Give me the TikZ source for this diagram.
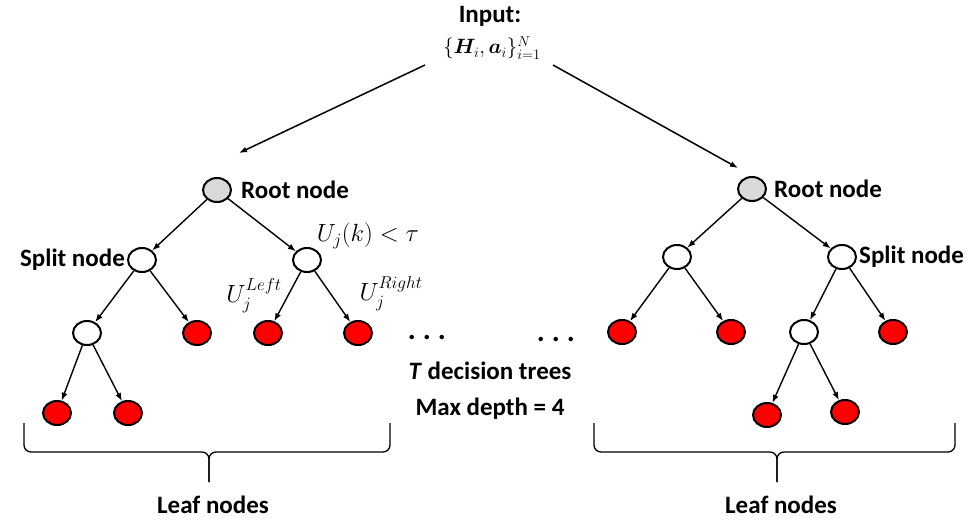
\documentclass[tikz,border=0pt]{standalone}
\usepackage{amsmath,amssymb,bm}
\usepackage{fontspec}
\setmainfont{Carlito}
\usetikzlibrary{arrows.meta,positioning,shapes.geometric}
\definecolor{TreeGray}{HTML}{D9D9D9}
\definecolor{TreeRed}{HTML}{FF0000}

\begin{document}
\begin{tikzpicture}[x=1pt,y=-1pt,
      >={Latex[length=8pt,width=6pt]},
      edge/.style={->,line width=1.4pt},
      feed/.style={->,line width=1.5pt},
      treenode/.style={draw,ellipse,line width=2pt,minimum width=28pt,
        minimum height=24pt,inner sep=0pt},
      rootnode/.style={treenode,fill=TreeGray},
      splitnode/.style={treenode,fill=white},
      leafnode/.style={treenode,fill=TreeRed},
      lbl/.style={font=\fontsize{25}{30}\selectfont\bfseries,inner sep=1pt},
      mathlbl/.style={font=\fontsize{26}{30}\selectfont,inner sep=1pt},
      brace/.style={line width=1.3pt,rounded corners=7pt}
    ]
    \useasboundingbox (0,0) rectangle (971,520);

    % input
    \node[lbl] (inTitle) at (490,16) {Input:};
    \node[font=\fontsize{22}{26}\selectfont,inner sep=0pt] (inData) at (492,48)
      {$\{\bm{H}_i,\bm{a}_i\}_{i=1}^{N}$};
    \coordinate (inL) at (425,65);
    \coordinate (inR) at (553,65);
    \coordinate (aTop) at (239,153);
    \coordinate (bTop) at (738,168);
    \draw[feed] (inL) -- (aTop);
    \draw[feed] (inR) -- (bTop);

    % first tree
    \node[rootnode] (aRoot) at (217,190) {};
    \node[splitnode] (aL) at (142,260) {};
    \node[splitnode] (aR) at (307,260) {};
    \node[splitnode] (aLL) at (87,333) {};
    \node[leafnode] (aLR) at (197,333) {};
    \node[leafnode] (aRL) at (268,333) {};
    \node[leafnode] (aRR) at (358,333) {};
    \node[leafnode] (aLLL) at (57,413) {};
    \node[leafnode] (aLLR) at (128,413) {};
    \foreach \p/\c in {aRoot/aL,aRoot/aR,aL/aLL,aL/aLR,aR/aRL,aR/aRR,aLL/aLLL,aLL/aLLR}
      \draw[edge] (\p) -- (\c);

    \node[lbl,right=8pt of aRoot] (aRootTxt) {Root node};
    \node[lbl,left=1pt of aL] (aSplitTxt) {Split node};
    \node[mathlbl] (aRule) at (368,236) {$U_j(k)<\tau$};
    \node[mathlbl] (aLeftTxt) at (254,296) {$U_j^{Left}$};
    \node[mathlbl] (aRightTxt) at (391,294) {$U_j^{Right}$};

    % second tree
    \node[rootnode] (bRoot) at (752,189) {};
    \node[splitnode] (bL) at (677,257) {};
    \node[splitnode] (bR) at (842,257) {};
    \node[leafnode] (bLL) at (622,332) {};
    \node[leafnode] (bLR) at (731,332) {};
    \node[splitnode] (bRL) at (804,332) {};
    \node[leafnode] (bRR) at (893,332) {};
    \node[leafnode] (bRLL) at (767,415) {};
    \node[leafnode] (bRLR) at (845,412) {};
    \foreach \p/\c in {bRoot/bL,bRoot/bR,bL/bLL,bL/bLR,bR/bRL,bR/bRR,bRL/bRLL,bRL/bRLR}
      \draw[edge] (\p) -- (\c);

    \node[lbl,right=6pt of bRoot] (bRootTxt) {Root node};
    \node[lbl,right=1pt of bR] (bSplitTxt) {Split node};

    % middle
    \node[font=\fontsize{30}{30}\selectfont\bfseries] (dotsA) at (427,337) {.\hspace{7pt}.\hspace{7pt}.};
    \node[font=\fontsize{30}{30}\selectfont\bfseries] (dotsB) at (556,339) {.\hspace{7pt}.\hspace{7pt}.};
    \node[lbl] (treeCount) at (490,371) {\textit{T} decision trees};
    \node[lbl] (maxDepth) at (490,409) {Max depth = 4};

    % leaf braces
    \draw[brace] (24,423) -- (24,452) -- (209,452) -- (209,482);
    \draw[brace] (390,423) -- (390,452) -- (209,452) -- (209,482);
    \draw[brace] (594,423) -- (594,452) -- (777,452) -- (777,482);
    \draw[brace] (955,423) -- (955,452) -- (777,452) -- (777,482);
    \node[lbl,inner sep=0pt] (aLeafTxt) at (213,505) {Leaf nodes};
    \node[lbl,inner sep=0pt] (bLeafTxt) at (781,505) {Leaf nodes};
  \end{tikzpicture}
\end{document}
